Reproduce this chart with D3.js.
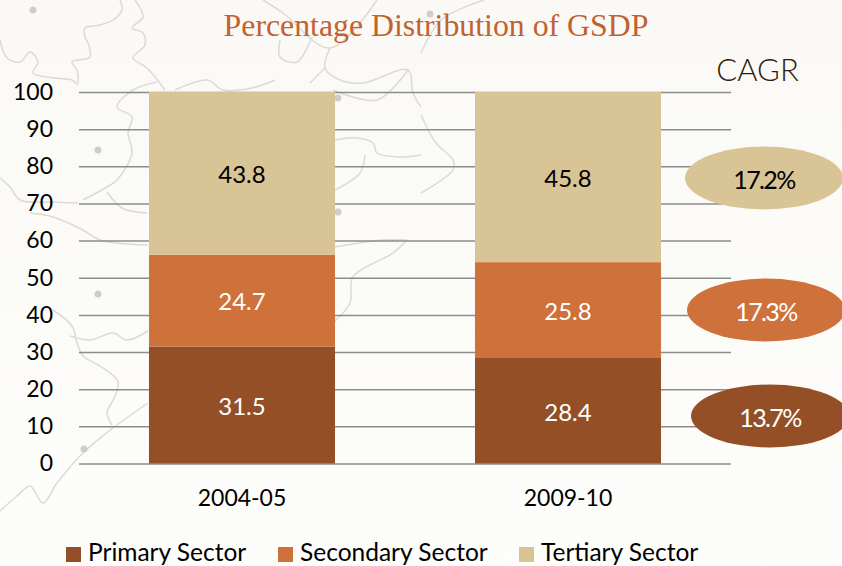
<!DOCTYPE html>
<html>
<head>
<meta charset="utf-8">
<script src="https://cdn.jsdelivr.net/npm/d3@7"></script>
<style>
  html, body { margin: 0; padding: 0; background: #fcfbf8; overflow: hidden; }
  text { font-family: Lato, "Open Sans", sans-serif; }
</style>
</head>
<body>
<div id="chart"></div>
<script>
  const periods = ["2004-05", "2009-10"];
  const sectors = ["Primary Sector", "Secondary Sector", "Tertiary Sector"];
  const primaryValues = [31.5, 28.4];
  const secondaryValues = [24.7, 25.8];
  const tertiaryValues = [43.8, 45.8];
  const yTicks = [0, 10, 20, 30, 40, 50, 60, 70, 80, 90, 100];
  const cagrLabels = ["13.7%", "17.3%", "17.2%"];
  const sectorColors = ["#944f27", "#cf713b", "#d9c496"];
  const labelColors = ["#ffffff", "#ffffff", "#000000"];

  // faint state borders in the slide background, traced by eye
  const mapLines = [
    [[120,0],[122,10],[113,20],[100,25],[85,28],[85,37],[88,43],[90,57],[72,62],[77,70],[78,83]],
    [[135,0],[143,17],[132,28],[143,33],[145,45],[133,58],[147,68],[165,90]],
    [[0,40],[7,58],[20,62],[30,52],[38,62],[33,73],[55,78],[72,80],[78,85]],
    [[157,82],[133,90],[117,107],[132,117],[128,133],[132,153],[117,180],[107,187],[83,200]],
    [[0,178],[10,187],[20,200],[53,202],[78,203]],
    [[107,192],[122,208],[147,213]],
    [[30,213],[53,217],[83,230],[100,240],[148,245]],
    [[53,310],[72,326],[77,343],[83,356],[100,366],[118,381],[115,396],[107,413],[112,425]],
    [[70,336],[90,340],[113,333],[127,340],[148,331]],
    [[148,403],[113,428],[83,453],[57,483],[43,503],[30,486],[17,496],[0,511]],
    [[335,321],[350,303],[353,277],[393,253],[407,240]],
    [[335,140],[357,138],[373,143],[377,153],[400,157],[421,155]],
    [[421,115],[436,143],[453,160],[453,170],[421,193]],
    [[335,190],[360,173],[365,155]],
    [[335,247],[383,240],[407,240]],
    [[263,0],[283,13],[330,48],[377,0]],
    [[280,40],[280,57],[297,62],[312,37]],
    [[330,48],[325,68],[340,80],[363,83],[408,70],[413,93],[421,107]],
    [[175,90],[207,80],[223,90],[252,88],[275,80]],
    [[310,83],[325,68]],
    [[333,90],[377,100],[408,70]],
    [[421,53],[441,20],[484,0]]
  ];
  const mapDots = [[33,10],[98,150],[338,98],[338,212],[98,294],[84,449],[430,14]];

  const W = 842, H = 566;
  const svg = d3.select("#chart").append("svg")
    .attr("width", W)
    .attr("height", H)
    .style("display", "block");

  const grad = svg.append("defs").append("linearGradient")
    .attr("id", "bg").attr("x1", 0).attr("y1", 0).attr("x2", 0).attr("y2", 1);
  grad.append("stop").attr("offset", "0%").attr("stop-color", "#faf9f5");
  grad.append("stop").attr("offset", "100%").attr("stop-color", "#fdfdfb");
  svg.append("rect").attr("width", W).attr("height", H).attr("fill", "url(#bg)");

  // background map
  const mapLine = d3.line().curve(d3.curveCatmullRom.alpha(0.5));
  svg.append("g").selectAll("path")
    .data(mapLines)
    .enter().append("path")
    .attr("d", mapLine)
    .attr("fill", "none")
    .attr("stroke", "#dbdad4")
    .attr("stroke-width", 1.5);
  svg.append("g").selectAll("circle")
    .data(mapDots)
    .enter().append("circle")
    .attr("cx", d => d[0])
    .attr("cy", d => d[1])
    .attr("r", 3.5)
    .attr("fill", "#cfcec6");

  const x = d3.scaleBand()
    .domain(periods)
    .range([79, 731])
    .paddingInner(0.4294)
    .paddingOuter(0.2147);
  const y = d3.scaleLinear().domain([0, 100]).range([463.5, 92]);

  // gridlines + y labels come from the axis
  const yAxis = d3.axisLeft(y).tickValues(yTicks).tickSize(-652).tickPadding(26);
  const yG = svg.append("g").attr("transform", "translate(79,0)").call(yAxis);
  yG.select(".domain").remove();
  yG.selectAll(".tick line").attr("stroke", "#8c8c8c").attr("stroke-width", 1.5);
  yG.selectAll(".tick text")
    .attr("fill", "#000")
    .style("font-family", "Lato, sans-serif")
    .style("font-size", "23px");

  // stacked bars
  const rows = periods.map((p, i) => ({
    period: p,
    "Primary Sector": primaryValues[i],
    "Secondary Sector": secondaryValues[i],
    "Tertiary Sector": tertiaryValues[i]
  }));
  const stacked = d3.stack().keys(sectors)(rows);

  const layers = svg.selectAll("g.layer")
    .data(stacked)
    .enter().append("g")
    .attr("class", "layer");

  layers.selectAll("rect")
    .data(d => d)
    .enter().append("rect")
    .attr("x", d => x(d.data.period))
    .attr("width", x.bandwidth())
    .attr("y", d => y(d[1]))
    .attr("height", d => y(d[0]) - y(d[1]))
    .attr("fill", function () { return sectorColors[d3.select(this.parentNode).datum().index]; });

  layers.selectAll("text")
    .data(d => d.map(v => ({ v, idx: d.index, key: d.key })))
    .enter().append("text")
    .attr("x", d => x(d.v.data.period) + x.bandwidth() / 2)
    .attr("y", d => y((d.v[0] + d.v[1]) / 2) + 1.5)
    .attr("dy", "0.35em")
    .attr("text-anchor", "middle")
    .attr("fill", d => labelColors[d.idx])
    .style("font-size", "24px")
    .text(d => d.v.data[d.key]);

  // category labels
  svg.selectAll("text.period")
    .data(periods)
    .enter().append("text")
    .attr("class", "period")
    .attr("x", d => x(d) + x.bandwidth() / 2)
    .attr("y", 506)
    .attr("text-anchor", "middle")
    .attr("fill", "#000")
    .style("font-size", "23px")
    .text(d => d);

  // CAGR ovals, placed beside their sector in the last bar
  const ovalCx = [770, 766, 764];
  const ovalCy = [416, 310, 178];
  cagrLabels.forEach((label, i) => {
    svg.append("ellipse")
      .attr("cx", ovalCx[i])
      .attr("cy", ovalCy[i])
      .attr("rx", 79)
      .attr("ry", 31.5)
      .attr("fill", sectorColors[i]);
    svg.append("text")
      .attr("x", ovalCx[i])
      .attr("y", ovalCy[i] + 2)
      .attr("dy", "0.35em")
      .attr("text-anchor", "middle")
      .attr("fill", labelColors[i])
      .style("font-size", "25px")
      .style("letter-spacing", "-1.6px")
      .text(label);
  });

  svg.append("text")
    .attr("x", 757.5)
    .attr("y", 81)
    .attr("text-anchor", "middle")
    .attr("fill", "#2f1c0c")
    .style("font-size", "31px")
    .style("font-weight", "300")
    .text("CAGR");

  svg.append("text")
    .attr("x", 436)
    .attr("y", 36)
    .attr("text-anchor", "middle")
    .attr("fill", "#c1622f")
    .style("font-family", "'Liberation Serif', serif")
    .style("font-size", "31.8px")
    .text("Percentage Distribution of GSDP");

  // legend
  const legendX = [66, 278, 519];
  sectors.forEach((name, i) => {
    svg.append("rect")
      .attr("x", legendX[i])
      .attr("y", 547)
      .attr("width", 15)
      .attr("height", 15)
      .attr("fill", sectorColors[i]);
    svg.append("text")
      .attr("x", legendX[i] + 22)
      .attr("y", 560.5)
      .attr("fill", "#000")
      .style("font-size", "24.5px")
      .text(name);
  });
</script>
</body>
</html>
